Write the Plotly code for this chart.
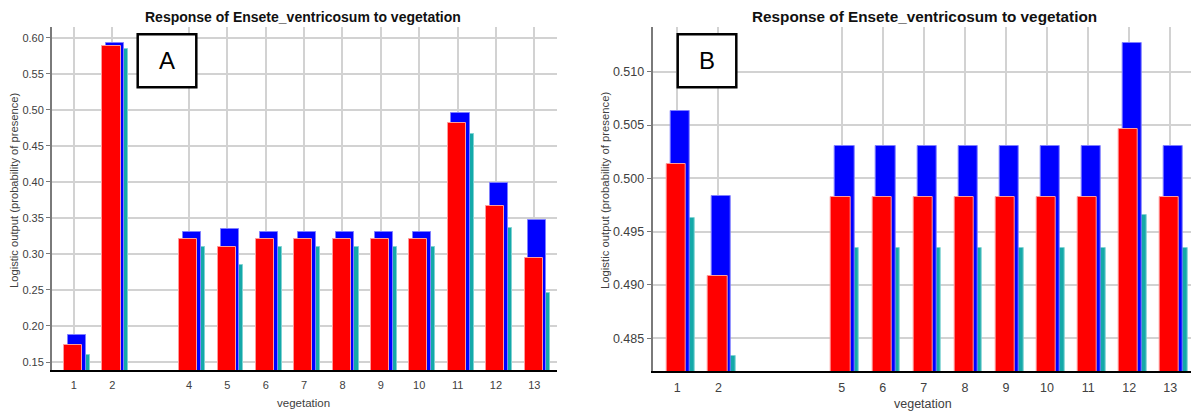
import plotly.graph_objects as go

W, H = 1191, 413

# Panel A: vegetation classes and logistic output (mean + sd, mean, mean - sd)
veg_a = [1, 2, 4, 5, 6, 7, 8, 9, 10, 11, 12, 13]
upper_a = [0.188, 0.593, 0.330, 0.335, 0.330, 0.330, 0.330, 0.330, 0.330, 0.495, 0.399, 0.347]
mean_a = [0.174, 0.589, 0.320, 0.310, 0.320, 0.320, 0.320, 0.320, 0.320, 0.481, 0.367, 0.295]
lower_a = [0.160, 0.584, 0.310, 0.285, 0.310, 0.310, 0.310, 0.310, 0.310, 0.466, 0.336, 0.246]
yticks_a = [0.15, 0.20, 0.25, 0.30, 0.35, 0.40, 0.45, 0.50, 0.55, 0.60]

# Panel B
veg_b = [1, 2, 5, 6, 7, 8, 9, 10, 11, 12, 13]
upper_b = [0.5063, 0.4983, 0.5030, 0.5030, 0.5030, 0.5030, 0.5030, 0.5030, 0.5030, 0.5127, 0.5030]
mean_b = [0.50135, 0.49084, 0.49828, 0.49828, 0.49828, 0.49828, 0.49828, 0.49828, 0.49828, 0.50463, 0.49828]
lower_b = [0.49631, 0.48337, 0.49344, 0.49344, 0.49344, 0.49344, 0.49344, 0.49344, 0.49344, 0.49659, 0.49344]
yticks_b = [0.485, 0.490, 0.495, 0.500, 0.505, 0.510]

title_text = "Response of Ensete_ventricosum to vegetation"
x_title = "vegetation"
y_title = "Logistic output (probability of presence)"

FONT = "Liberation Sans, Arial, sans-serif"
BAR_W = 0.47
series_style = [
    # (name, offset of left edge, fill, edge)
    ("lower", 0.185 - BAR_W / 2, "#14a9a9", "#7fd2d2"),
    ("upper", 0.075 - BAR_W / 2, "#0000ff", "#7f7fff"),
    ("mean", -0.02 - BAR_W / 2, "#ff0000", "#ff9a9a"),
]

fig = go.Figure()


def add_panel(veg, lower, upper, mean, xa, ya):
    vals = {"lower": lower, "upper": upper, "mean": mean}
    for name, off, fill, edge in series_style:
        fig.add_trace(go.Bar(
            x=veg, y=vals[name], name=name, xaxis=xa, yaxis=ya,
            width=BAR_W, offset=off,
            marker=dict(color=fill, line=dict(color=edge, width=1)),
            showlegend=False, hoverinfo="x+y",
        ))


add_panel(veg_a, lower_a, upper_a, mean_a, "x", "y")
add_panel(veg_b, lower_b, upper_b, mean_b, "x2", "y2")


def px_x(p):
    return p / W


def px_y(p):
    return 1 - p / H


GRID = "#d2d2d2"
dom_ax = [px_x(52), px_x(557)]
dom_ay = [px_y(370), px_y(27)]
dom_bx = [px_x(652.7), 1.0]
dom_by = [px_y(371), px_y(27)]
rng_ax = [0.43, 13.59]
rng_ay = [0.1389, 0.61485]
rng_bx = [0.401, 13.504]
rng_by = [0.481934, 0.514192]


def bottom_axis(dom, rng, vals, size):
    return dict(domain=dom, range=rng, tickmode="array", tickvals=vals,
                ticktext=[str(v) for v in vals], showgrid=True, gridcolor=GRID,
                gridwidth=1.5, zeroline=False, showline=True, linecolor="#000000",
                linewidth=2, ticks="", ticklabelstandoff=4,
                tickfont=dict(family=FONT, size=size, color="#404040"))


def left_axis(dom, rng, vals, fmt, size):
    return dict(domain=dom, range=rng, tickmode="array", tickvals=vals,
                tickformat=fmt, showgrid=True, gridcolor=GRID, gridwidth=1.5,
                zeroline=False, showline=True, linecolor="#7a7a7a", linewidth=2,
                ticks="outside", ticklen=4, tickcolor="#7a7a7a", tickwidth=1,
                tickfont=dict(family=FONT, size=size, color="#404040"))


def top_axis(over, anchor, rng, vals):
    return dict(overlaying=over, anchor=anchor, side="top", range=rng,
                tickmode="array", tickvals=vals, showticklabels=False,
                showgrid=False, zeroline=False, showline=True, linecolor="#000000",
                linewidth=2, ticks="inside", ticklen=4, tickcolor="#000000")


def right_axis(over, anchor, rng, vals):
    return dict(overlaying=over, anchor=anchor, side="right", range=rng,
                tickmode="array", tickvals=vals, showticklabels=False,
                showgrid=False, zeroline=False, showline=True, linecolor="#000000",
                linewidth=2, ticks="inside", ticklen=4, tickcolor="#000000")


fig.update_layout(
    width=W, height=H,
    margin=dict(l=0, r=0, t=0, b=0),
    paper_bgcolor="white", plot_bgcolor="white",
    barmode="overlay", bargap=0,
    xaxis=dict(anchor="y", **bottom_axis(dom_ax, rng_ax, veg_a, 11)),
    yaxis=dict(anchor="x", **left_axis(dom_ay, rng_ay, yticks_a, ".2f", 11)),
    xaxis2=dict(anchor="y2", **bottom_axis(dom_bx, rng_bx, veg_b, 12.5)),
    yaxis2=dict(anchor="x2", **left_axis(dom_by, rng_by, yticks_b, ".3f", 12.5)),
    xaxis3=top_axis("x", "y", rng_ax, veg_a),
    yaxis3=right_axis("y", "x", rng_ay, yticks_a),
    xaxis4=top_axis("x2", "y2", rng_bx, veg_b),
    yaxis4=right_axis("y2", "x2", rng_by, yticks_b),
)

annotations = [
    dict(x=px_x(303.3), y=px_y(17), text=title_text,
         font=dict(family=FONT, size=14, color="#111111", weight="bold")),
    dict(x=px_x(924), y=px_y(17), text=title_text,
         font=dict(family=FONT, size=15.3, color="#111111", weight="bold")),
    dict(x=px_x(303.5), y=px_y(403), text=x_title,
         font=dict(family=FONT, size=11.5, color="#404040")),
    dict(x=px_x(923), y=px_y(404), text=x_title,
         font=dict(family=FONT, size=12.5, color="#404040")),
    dict(x=px_x(14), y=px_y(190), text=y_title, textangle=-90,
         font=dict(family=FONT, size=11.2, color="#404040")),
    dict(x=px_x(605), y=px_y(191), text=y_title, textangle=-90,
         font=dict(family=FONT, size=11.3, color="#404040")),
    dict(x=px_x(167), y=px_y(61), text="A",
         font=dict(family=FONT, size=24, color="#000000")),
    dict(x=px_x(707), y=px_y(61), text="B",
         font=dict(family=FONT, size=24, color="#000000")),
]
for a in annotations:
    a.update(xref="paper", yref="paper", xanchor="center", yanchor="middle",
             showarrow=False)
fig.update_layout(annotations=annotations)

# Framed panel labels
for x0, x1 in [(137.7, 196.3), (677.7, 736.3)]:
    fig.add_shape(type="rect", xref="paper", yref="paper",
                  x0=px_x(x0), x1=px_x(x1), y0=px_y(87.3), y1=px_y(34.3),
                  line=dict(color="#000000", width=2.5), fillcolor="white",
                  layer="above")

fig.write_html("out.html")
